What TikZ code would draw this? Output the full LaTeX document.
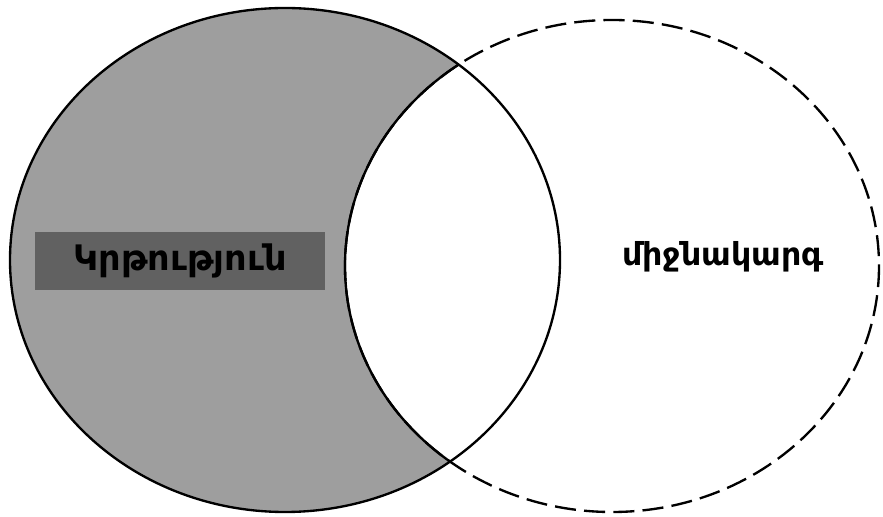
\documentclass[tikz,border=0pt]{standalone}
\usepackage{fontspec}
\newfontfamily\armfont{DejaVu Sans}
\usetikzlibrary{positioning}

\begin{document}
\begin{tikzpicture}[
    x=0.03cm, y=-0.03cm,
    outline/.style={line width=2pt},
    dashline/.style={line width=2pt, dash pattern=on 18pt off 7pt},
    label/.style={font=\armfont\bfseries\fontsize{27}{32}\selectfont, inner sep=0pt}
]
\useasboundingbox (0,0) rectangle (883,517);

% Left set, shaded
\fill[black!38] (285,260) ellipse (275 and 252);
\fill[white] (612,266) ellipse (267 and 246);

% Outlines
\draw[outline] (285,260) ellipse (275 and 252);
\draw[dashline] (612,266) ellipse (267 and 246);
\begin{scope}
  \clip (285,260) ellipse (275 and 252);
  \draw[outline] (612,266) ellipse (267 and 246);
\end{scope}

% Labels
\node[label, fill=black!62, minimum width=290*0.03cm, minimum height=58*0.03cm, font=\armfont\bfseries\fontsize{30}{34}\selectfont] (edu) at (180,261) {Կրթություն};
\node[label] (sec) at (723,257) {միջնակարգ};

\end{tikzpicture}
\end{document}
